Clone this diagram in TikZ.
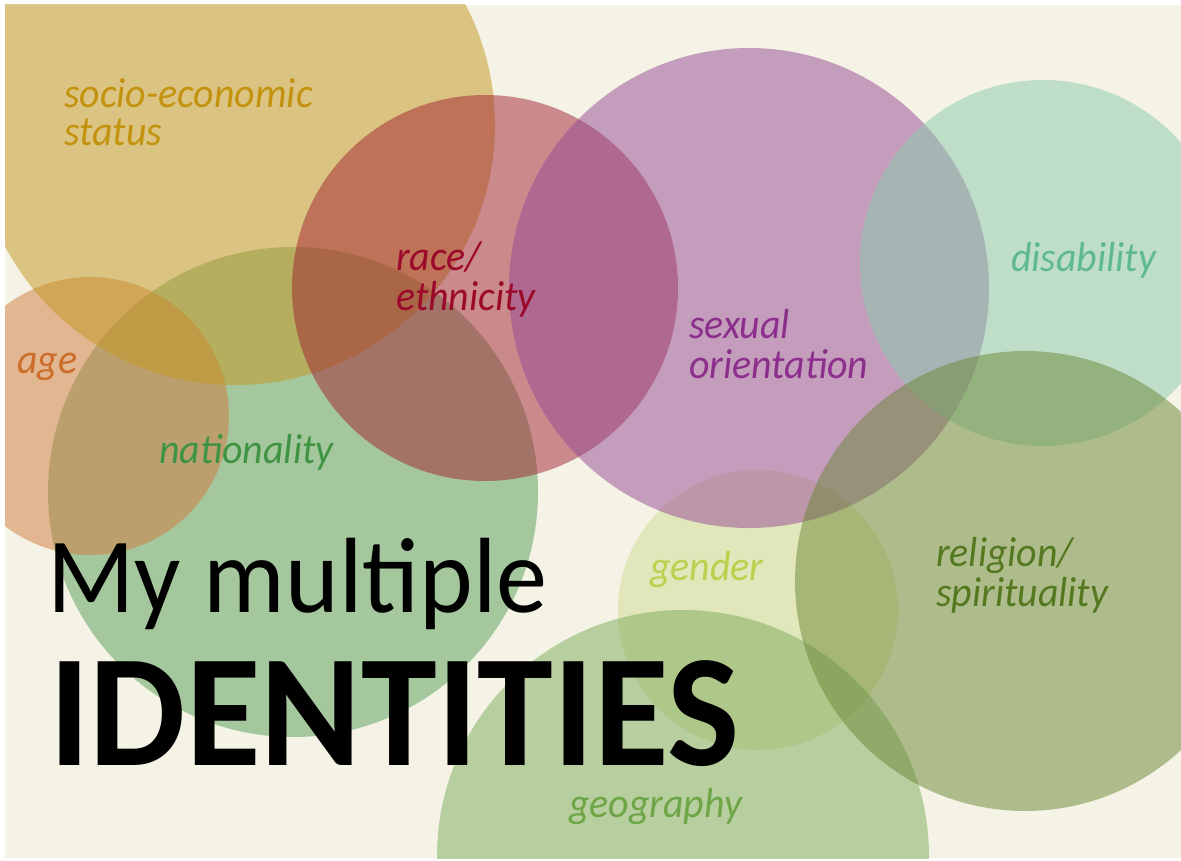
\documentclass[tikz,border=0pt]{standalone}
\usepackage{fontspec}
\usepackage{graphicx}
\setmainfont{Carlito}
\definecolor{bgc}{HTML}{F4F3E5}
\definecolor{cSocio}{HTML}{C4971F}
\definecolor{cAge}{HTML}{D27B3F}
\definecolor{cNat}{HTML}{589D59}
\definecolor{cRace}{HTML}{A22131}
\definecolor{cSex}{HTML}{964995}
\definecolor{cDis}{HTML}{8CCBAD}
\definecolor{cRel}{HTML}{6A8735}
\definecolor{cGen}{HTML}{D0DD93}
\definecolor{cGeo}{HTML}{7CAB5B}
\definecolor{tSocio}{HTML}{C3920F}
\definecolor{tRace}{HTML}{9C0A2B}
\definecolor{tAge}{HTML}{CC6E2A}
\definecolor{tNat}{HTML}{3F9444}
\definecolor{tSex}{HTML}{8C2F8C}
\definecolor{tDis}{HTML}{5DB893}
\definecolor{tRel}{HTML}{54781F}
\definecolor{tGen}{HTML}{BBD14D}
\definecolor{tGeo}{HTML}{6EA546}
\newcommand{\lbltext}[1]{\scalebox{0.95}[1]{\begin{tabular}[t]{@{}l@{}}#1\end{tabular}}}
\tikzset{
  blob/.style={fill=#1, fill opacity=0.5, draw=none},
  lbl/.style={anchor=base west, inner sep=0pt, text=#1, font=\itshape\fontsize{42}{37}\selectfont},
}
\begin{document}
\begin{tikzpicture}[x=1pt,y=-1pt]
\useasboundingbox (0,0) rectangle (1181,861);
\fill[white] (0,0) rectangle (1181,861);
\fill[bgc] (5,5) rectangle (1181,858);
\begin{scope}
\clip (5,5) rectangle (1181,858);
\fill[blob=cNat] (293,492) circle[radius=245pt];
\fill[blob=cAge] (90,416) circle[radius=139pt];
\fill[blob=cSocio] (235,125) circle[radius=260pt];
\fill[blob=cRace] (485,288) circle[radius=193pt];
\fill[blob=cGen] (758,610) circle[radius=140pt];
\fill[blob=cGeo] (683,856) circle[radius=246pt];
\fill[blob=cSex] (749,288) circle[radius=240pt];
\fill[blob=cDis] (1043,263) circle[radius=183pt];
\fill[blob=cRel] (1025,581) circle[radius=230pt];
\end{scope}
\node[lbl=tSocio] (socio) at (64,108) {\lbltext{socio-economic\\status}};
\node[lbl=tRace] (race) at (396,270) {\lbltext{race/\\ethnicity}};
\node[lbl=tAge] (age) at (17,373) {\lbltext{age}};
\node[lbl=tNat] (nat) at (159,463) {\lbltext{nationality}};
\node[lbl=tSex] (sex) at (689,338) {\lbltext{sexual\\orientation}};
\node[lbl=tDis] (dis) at (1011,272) {\lbltext{disability}};
\node[lbl=tRel] (rel) at (936,566) {\lbltext{religion/\\spirituality}};
\node[lbl=tGen] (gen) at (650,580) {\lbltext{gender}};
\node[lbl=tGeo] (geo) at (569,817) {\lbltext{geography}};
\node[anchor=base west, inner sep=0pt, font=\fontsize{107}{107}\selectfont] (t1) at (47,612) {\scalebox{0.955}[1]{My multiple}};
\node[anchor=base west, inner sep=0pt, font=\bfseries\fontsize{160}{160}\selectfont] (t2) at (49,765) {\scalebox{0.955}[1]{IDENTITIES}};
\end{tikzpicture}
\end{document}
